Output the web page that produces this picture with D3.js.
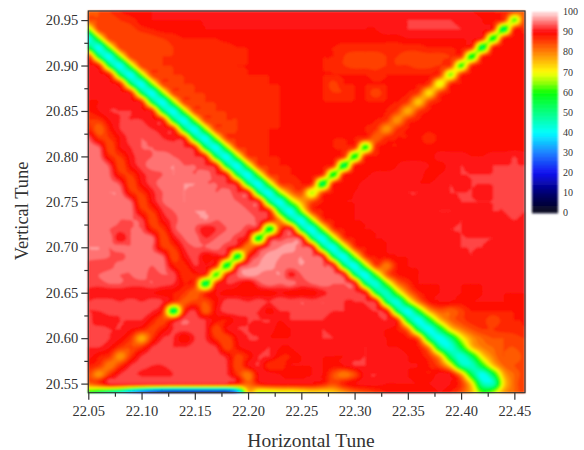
<!DOCTYPE html>
<html>
<head>
<meta charset="utf-8">
<script src="https://cdn.jsdelivr.net/npm/d3@7"></script>
<style>
body { margin: 0; background: #fff; }
text { font-family: "Liberation Serif", serif; fill: #333; }
</style>
</head>
<body>
<div id="chart"></div>
<script>
// tune scan grid, 0.01 steps
var horizontalStart = 22.05, verticalTop = 20.96, tuneStep = 0.01;
var xTickLabels = [22.05, 22.10, 22.15, 22.20, 22.25, 22.30, 22.35, 22.40, 22.45];
var yTickLabels = [20.55, 20.60, 20.65, 20.70, 20.75, 20.80, 20.85, 20.90, 20.95];
var xMinorTicks = [22.075, 22.125, 22.175, 22.225, 22.275, 22.325, 22.375, 22.425];
var yMinorTicks = [20.575, 20.625, 20.675, 20.725, 20.775, 20.825, 20.875, 20.925];
var legendLabels = [0, 10, 20, 30, 40, 50, 60, 70, 80, 90, 100];
var colorStops = [0, 5, 10, 20, 30, 40, 45, 50, 60, 65, 70, 75, 80, 85, 90, 100];
var colorValues = ['#14141f', '#000040', '#000070', '#1010f0', '#2080ff', '#00ffff', '#00ffc0', '#00ff80', '#00ff00', '#90ff00', '#ffff00', '#ffc000', '#ff8000', '#ff4000', '#ff0000', '#ffe4e4'];

// one row per vertical tune, top (20.96) to bottom (20.54)
var rateRows = [
[82,84,86,88,89,89,90,90,90,90, 90,90,90,90,90,90,90,90,90,90, 90,90,90,90,90,90,90,90,90,90, 91,91,91,90,90,90,90,89,88,87,86,82],
[84,84,84,86,87,89,90,90,90,90, 90,90,90,91,91,91,91,90,90,90, 90,90,90,90,90,90,90,90,90,90, 92,92,92,92,92,91,91,90,88,87,62,86],
[64,85,84,84,85,87,88,89,89,89, 89,90,90,90,90,90,90,90,90,90, 90,90,90,90,90,90,90,90,91,91, 92,92,92,92,92,92,91,90,87,52,87,86],
[40,64,85,84,84,84,85,86,87,88, 88,88,88,89,89,89,89,89,89,89, 89,89,89,89,89,89,89,89,89,89, 90,90,90,90,90,90,90,87,56,87,88,89],
[54,40,64,85,85,85,85,85,86,86, 87,87,87,87,88,88,88,88,88,88, 88,88,88,88,87,87,87,87,87,87, 87,87,88,88,88,88,87,52,87,88,89,89],
[87,54,40,64,85,85,85,86,86,86, 87,87,87,87,87,88,88,88,88,88, 88,88,88,88,86,85,85,85,86,86, 85,85,85,85,86,86,56,86,88,89,89,89],
[90,87,54,40,64,85,85,86,86,86, 86,87,87,87,88,88,88,89,89,89, 88,88,88,87,86,85,85,85,86,86, 86,85,85,86,86,60,86,88,89,89,89,89],
[90,90,87,54,40,64,85,85,86,86, 86,86,87,87,87,88,88,88,88,88, 88,88,88,88,88,88,88,87,88,88, 88,88,88,86,64,86,88,89,89,89,89,89],
[90,90,90,87,54,40,64,85,85,86, 86,86,86,87,87,87,87,88,88,88, 88,88,88,85,88,88,88,88,88,88, 88,88,86,68,86,88,89,89,89,89,89,89],
[90,90,90,90,87,54,40,64,85,85, 86,86,86,86,87,87,87,87,88,88, 88,88,88,86,86,88,88,84,88,88, 88,85,72,85,88,89,89,89,89,89,89,89],
[90,90,91,91,90,87,54,40,64,85, 85,86,86,86,86,87,87,87,88,88, 88,88,88,88,88,88,88,88,88,88, 85,74,85,88,89,89,89,89,89,89,89,89],
[88,90,92,92,92,90,87,54,40,64, 85,85,86,86,86,87,87,87,88,88, 88,88,88,88,88,88,88,88,88,85, 76,85,88,89,89,89,89,89,89,89,89,89],
[86,86,90,92,92,92,90,87,54,40, 64,85,85,86,86,87,87,87,88,88, 88,88,88,88,88,88,88,88,86,78, 86,88,89,89,89,89,89,89,89,89,89,89],
[88,82,88,92,93,93,92,91,87,54, 40,64,85,85,86,87,87,88,88,88, 88,88,88,88,88,88,88,86,78,86, 88,89,89,89,89,89,89,89,89,89,89,89],
[94,86,86,90,93,94,93,92,91,87, 54,40,64,85,86,87,87,88,88,88, 88,88,88,88,88,88,87,82,87,88, 88,89,86,89,89,89,89,89,89,89,89,89],
[95,94,84,90,92,94,94,93,93,92, 87,54,40,64,85,86,87,88,88,88, 88,88,88,88,87,87,58,87,88,88, 89,89,89,89,89,89,89,89,89,89,89,89],
[96,95,87,86,91,93,94,95,94,93, 92,87,54,40,64,85,86,88,88,88, 88,88,88,88,87,56,87,88,88,89, 89,89,89,91,91,91,90,90,91,91,92,91],
[94,96,93,84,90,93,95,95,96,94, 94,92,87,54,40,64,85,86,88,88, 88,88,88,87,52,87,88,88,88,90, 91,91,90,89,91,92,91,91,92,92,92,92],
[95,96,94,87,86,91,93,94,96,95, 94,95,92,87,54,40,64,85,86,88, 88,88,87,56,87,88,89,91,91,91, 91,91,89,90,91,92,92,92,92,92,92,93],
[96,95,95,93,84,90,93,95,95,96, 96,94,94,92,87,54,40,64,85,86, 88,87,52,87,88,89,91,92,91,92, 91,90,90,91,92,91,92,92,92,92,92,93],
[94,95,96,95,87,86,91,94,95,96, 95,96,94,95,92,90,54,40,64,80, 84,66,84,88,89,90,91,91,90,91, 92,92,91,91,92,92,92,91,92,93,92,93],
[95,96,95,96,94,84,90,94,95,96, 95,94,96,95,94,92,90,54,40,62, 76,84,88,89,90,90,90,91,91,91, 91,91,92,91,91,92,92,92,92,92,92,92],
[96,95,94,95,95,87,86,92,94,95, 96,96,95,95,96,94,92,87,54,40, 64,85,88,89,89,90,90,90,90,91, 91,91,91,92,92,91,91,91,92,92,93,92],
[94,95,96,94,94,93,84,90,93,95, 95,96,94,95,95,95,93,88,78,54, 40,64,85,88,89,90,90,90,90,90, 90,91,91,91,91,92,91,92,91,91,92,91],
[95,96,94,93,94,94,87,86,93,95, 94,90,92,94,95,92,87,54,84,90, 54,40,64,85,88,89,90,90,90,90, 90,90,91,91,92,92,91,91,91,91,91,91],
[94,94,95,90,94,95,95,84,90,94, 95,92,94,95,92,87,54,87,92,94, 90,54,40,64,85,88,89,90,90,90, 90,90,91,92,91,92,92,92,92,91,91,90],
[96,96,94,95,94,95,94,86,86,92, 94,94,95,92,88,80,88,94,96,97, 94,90,54,40,64,85,88,89,90,90, 90,90,90,91,91,92,92,92,91,91,90,90],
[95,95,94,93,95,94,95,94,84,90, 93,89,90,87,54,87,94,97,96,95, 96,94,90,54,40,64,85,88,89,90, 90,90,90,90,91,91,92,91,91,90,90,90],
[93,92,93,95,94,95,94,95,88,87, 92,90,87,54,87,94,96,97,95,95, 96,95,94,90,54,40,64,85,80,88, 90,90,90,90,90,90,91,91,90,90,90,90],
[94,94,95,94,94,95,93,94,93,86, 88,87,60,87,94,97,96,95,96,91, 94,95,94,94,90,54,40,62,82,88, 89,90,90,90,90,90,90,90,90,90,90,90],
[93,93,94,94,93,93,94,93,92,88, 86,52,86,92,91,88,93,95,94,95, 93,94,95,94,94,90,54,42,62,80, 86,90,90,90,90,90,90,90,90,90,90,90],
[91,90,90,90,90,90,90,89,88,86, 82,86,90,89,89,88,89,89,90,89, 89,89,91,93,92,92,89,56,44,64, 80,87,89,90,90,90,89,90,90,90,90,90],
[92,93,93,92,93,92,93,92,86,83, 85,84,89,93,93,92,93,92,94,93, 94,93,94,93,92,92,92,90,54,42, 64,80,88,90,90,89,90,90,90,90,89,90],
[92,92,93,92,92,93,92,86,52,86, 92,82,90,93,93,92,92,89,92,92, 93,94,93,92,92,91,91,92,88,54, 40,58,76,83,82,85,88,88,88,88,88,88],
[93,90,91,92,92,92,88,84,88,94, 93,92,89,88,91,92,92,92,90,92, 92,92,92,91,91,91,91,91,92,86, 54,40,56,74,82,85,87,87,84,87,88,88],
[92,93,92,92,90,88,85,88,92,93, 93,92,84,90,92,92,91,91,89,90, 92,91,92,91,90,90,91,90,90,88, 80,52,40,54,72,80,84,86,86,87,87,88],
[93,93,92,90,86,76,86,92,92,88, 92,92,86,84,90,92,92,90,90,90, 92,90,92,92,90,90,91,90,90,89, 88,82,52,40,50,68,78,82,84,84,85,86],
[92,92,90,86,84,86,92,93,92,92, 93,93,92,84,89,91,91,92,90,90, 92,90,90,90,91,91,92,91,90,90, 89,88,78,50,42,56,74,80,82,84,84,86],
[91,88,86,78,86,92,93,92,93,93, 93,92,93,91,85,88,92,92,88,88, 90,90,90,90,90,91,92,90,90,91, 90,89,86,76,52,42,54,72,80,84,82,85],
[88,86,80,86,92,93,92,92,93,93, 93,92,93,92,84,90,92,86,86,90, 90,90,90,89,90,92,92,91,90,90, 90,90,88,84,72,48,44,58,74,82,84,85],
[85,78,86,92,93,91,90,90,92,93, 93,93,93,92,86,80,90,91,90,88, 89,90,90,84,80,84,91,92,91,90, 90,89,88,91,90,78,54,40,54,76,82,85],
[82,86,92,92,92,92,92,92,92,92, 92,92,92,92,88,82,88,90,90,90, 90,90,88,84,88,90,91,91,90,90, 90,90,90,91,90,86,72,46,44,72,82,86],
[58,52,46,40,28,18,10,4,2,2, 2,2,2,2,24,74,66,66,68,68, 70,72,72,74,78,82,84,86,88,88, 88,88,88,90,88,84,76,62,66,78,82,86]
];

rateRows.forEach(function(row, j) {
    if (row.length != 42) throw new Error("row " + j + " has " + row.length);
});

var svg = d3.select("#chart").append("svg")
    .attr("width", 584)
    .attr("height", 450)
    .style("display", "block");

var x = d3.scaleLinear().domain([22.05, 22.46]).range([88.3, 525]);
var y = d3.scaleLinear().domain([20.54, 20.96]).range([392.7, 11]);
var color = d3.scaleLinear().domain(colorStops).range(colorValues);
var levels = d3.range(0, 100, 2);

svg.append("defs").append("filter")
    .attr("id", "soft")
    .attr("x", "-5%").attr("y", "-5%").attr("width", "110%").attr("height", "110%")
    .append("feGaussianBlur")
    .attr("stdDeviation", 0.8);

svg.select("defs").append("clipPath")
    .attr("id", "plotClip")
    .append("rect")
    .attr("x", x.range()[0])
    .attr("y", y.range()[1])
    .attr("width", x.range()[1] - x.range()[0])
    .attr("height", y.range()[0] - y.range()[1]);

function cubic(a, b, c, d, t) {
    var m1 = (c - a) / 2, m2 = (d - b) / 2;
    var t2 = t * t, t3 = t2 * t;
    return (2 * t3 - 3 * t2 + 1) * b + (t3 - 2 * t2 + t) * m1 + (3 * t2 - 2 * t3) * c + (t3 - t2) * m2;
}

// upsample the grid so the contour edges come out round
var factor = 4;
var nRows = rateRows.length, nCols = rateRows[0].length;
var fineW = (nCols - 1) * factor + 1, fineH = (nRows - 1) * factor + 1;
var fine = new Array(fineW * fineH);

function gridAt(j, i) {
    return rateRows[Math.max(0, Math.min(nRows - 1, j))][Math.max(0, Math.min(nCols - 1, i))];
}

for (var fj = 0; fj < fineH; fj++) {
    for (var fi = 0; fi < fineW; fi++) {
        var gx = fi / factor, gy = fj / factor;
        var i0 = Math.min(Math.floor(gx), nCols - 2), j0 = Math.min(Math.floor(gy), nRows - 2);
        var tx = gx - i0, ty = gy - j0;
        var rowVals = [-1, 0, 1, 2].map(function(dj) {
            return cubic(gridAt(j0 + dj, i0 - 1), gridAt(j0 + dj, i0), gridAt(j0 + dj, i0 + 1), gridAt(j0 + dj, i0 + 2), tx);
        });
        var v = cubic(rowVals[0], rowVals[1], rowVals[2], rowVals[3], ty);
        // no overshoot past the corners of the cell
        var corners = [gridAt(j0, i0), gridAt(j0, i0 + 1), gridAt(j0 + 1, i0), gridAt(j0 + 1, i0 + 1)];
        fine[fj * fineW + fi] = Math.max(d3.min(corners), Math.min(d3.max(corners), v));
    }
}

var contours = d3.contours().size([fineW, fineH]).thresholds(levels)(fine);

var path = d3.geoPath(d3.geoTransform({
    point: function(px, py) {
        var tuneX = horizontalStart + (px - 0.5) / factor * tuneStep;
        var tuneY = verticalTop - (py - 0.5) / factor * tuneStep;
        this.stream.point(x(tuneX), y(tuneY));
    }
}));

var plot = svg.append("g").attr("filter", "url(#soft)")
    .append("g").attr("clip-path", "url(#plotClip)");

plot.selectAll("path")
    .data(contours)
    .enter()
    .append("path")
    .attr("d", path)
    .attr("fill", function(d) { return color(d.value + 1); })
    .attr("stroke", function(d) { return color(d.value + 1); })
    .attr("stroke-width", 0.3);

// frame
svg.append("rect")
    .attr("x", x.range()[0])
    .attr("y", y.range()[1])
    .attr("width", x.range()[1] - x.range()[0])
    .attr("height", y.range()[0] - y.range()[1])
    .attr("fill", "none")
    .attr("stroke", "#333")
    .attr("stroke-width", 1.2);

// axes
var xAxis = svg.append("g")
    .attr("transform", "translate(0," + y.range()[0] + ")")
    .call(d3.axisBottom(x).tickValues(xTickLabels).tickSize(7).tickPadding(6).tickFormat(d3.format(".2f")));
var xMinor = svg.append("g")
    .attr("transform", "translate(0," + y.range()[0] + ")")
    .call(d3.axisBottom(x).tickValues(xMinorTicks).tickSize(4).tickFormat(""));
var yAxis = svg.append("g")
    .attr("transform", "translate(" + x.range()[0] + ",0)")
    .call(d3.axisLeft(y).tickValues(yTickLabels).tickSize(7).tickPadding(3).tickFormat(d3.format(".2f")));
var yMinor = svg.append("g")
    .attr("transform", "translate(" + x.range()[0] + ",0)")
    .call(d3.axisLeft(y).tickValues(yMinorTicks).tickSize(4).tickFormat(""));

[xAxis, xMinor, yAxis, yMinor].forEach(function(a) {
    a.select(".domain").remove();
    a.selectAll("line").attr("stroke", "#333").attr("stroke-width", 1.2);
    a.selectAll("text")
        .attr("font-family", "Liberation Serif")
        .attr("font-size", 14.5)
        .attr("fill", "#333");
});

svg.append("text")
    .attr("x", 311)
    .attr("y", 447)
    .attr("text-anchor", "middle")
    .attr("font-size", 19.5)
    .text("Horizontal Tune");

svg.append("text")
    .attr("transform", "translate(28,211) rotate(-90)")
    .attr("text-anchor", "middle")
    .attr("font-size", 18.4)
    .text("Vertical Tune");

// legend bar
var legendY = d3.scaleLinear().domain([0, 100]).range([213, 12]);
var legend = svg.append("g").attr("filter", "url(#soft)");

legend.selectAll("rect")
    .data(levels)
    .enter()
    .append("rect")
    .attr("x", 532)
    .attr("width", 26)
    .attr("y", function(d) { return legendY(d + 2); })
    .attr("height", function(d) { return legendY(d) - legendY(d + 2) + 0.3; })
    .attr("fill", function(d) { return color(d + 1); });

svg.selectAll(".legendLabel")
    .data(legendLabels)
    .enter()
    .append("text")
    .attr("class", "legendLabel")
    .attr("x", 563)
    .attr("y", function(d) { return legendY(d); })
    .attr("dy", "0.32em")
    .attr("font-size", 10)
    .text(function(d) { return d; });
</script>
</body>
</html>
